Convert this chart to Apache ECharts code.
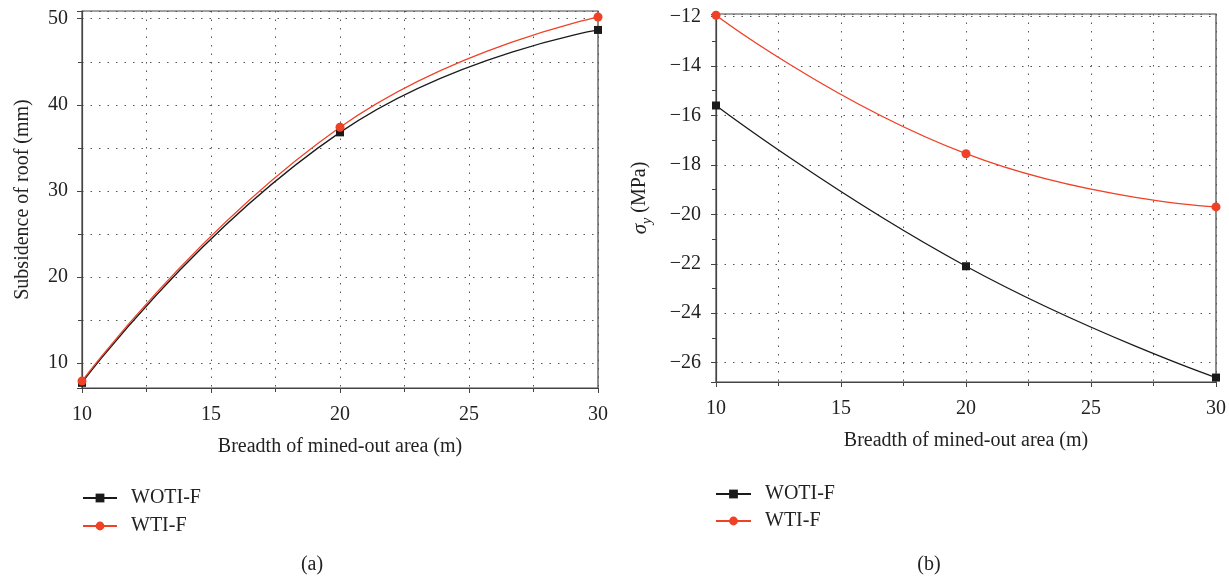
<!DOCTYPE html>
<html>
<head>
<meta charset="utf-8">
<script src="https://cdn.jsdelivr.net/npm/echarts@6/dist/echarts.min.js"></script>
<style>html,body{margin:0;padding:0;background:#fff}#c{width:1229px;height:578px}</style>
</head>
<body>
<div id="c"></div>
<script>
// Data
var breadth = [10, 20, 30];
var seriesNames = ['WOTI-F', 'WTI-F'];
var subsidenceWOTI = [7.7, 36.8, 48.7];
var subsidenceWTI = [7.9, 37.4, 50.2];
var stressWOTI = [-15.6, -22.1, -26.6];
var stressWTI = [-11.95, -17.55, -19.7];
var xTicks = [10, 15, 20, 25, 30];
var panelLabels = ['(a)', '(b)'];

var FONT = '"Liberation Serif", "DejaVu Serif", serif';
var TXT = '#222';
var BLACK = '#1a1a1a';
var RED = '#ee4126';
var FS = 20;

function pairs(xs, ys) { return xs.map(function (x, i) { return [x, ys[i]]; }); }

var chart = echarts.init(document.getElementById('c'), null, {renderer: 'canvas'});

function xAxisCfg(gi) {
  return {
    type: 'value', gridIndex: gi, min: 10, max: 30, interval: 5,
    name: 'Breadth of mined-out area (m)', nameLocation: 'middle', nameGap: 49,
    nameTextStyle: {fontFamily: FONT, fontSize: FS, color: TXT},
    axisLine: {show: true, lineStyle: {color: '#444', width: 1.2}},
    axisTick: {show: true, inside: false, length: 5, lineStyle: {color: '#444'}},
    minorTick: {show: true, splitNumber: 2, length: 4, lineStyle: {color: '#444'}},
    axisLabel: {fontFamily: FONT, fontSize: FS, color: TXT, margin: 17},
    splitLine: {show: true, lineStyle: {color: '#555', type: [1.5, 7], width: 1}},
    minorSplitLine: {show: true, lineStyle: {color: '#555', type: [1.5, 7], width: 1}}
  };
}

var option = {
  backgroundColor: '#fff',
  animation: false,
  title: [
    {text: panelLabels[0], left: 307, top: 550, textAlign: 'center',
     textStyle: {fontFamily: FONT, fontSize: FS, fontWeight: 'normal', color: TXT}},
    {text: panelLabels[1], left: 924, top: 550, textAlign: 'center',
     textStyle: {fontFamily: FONT, fontSize: FS, fontWeight: 'normal', color: TXT}}
  ],
  grid: [
    {left: 82, right: 631, top: 11, bottom: 190, show: true, borderColor: '#444', borderWidth: 1.2, backgroundColor: 'transparent'},
    {left: 716, right: 12, top: 14, bottom: 196, show: true, borderColor: '#444', borderWidth: 1.2, backgroundColor: 'transparent'}
  ],
  legend: [
    {orient: 'vertical', left: 82, top: 488, padding: 0, itemWidth: 34, itemHeight: 11, itemGap: 8,
     data: seriesNames, textStyle: {fontFamily: FONT, fontSize: FS, color: TXT, padding: [0, 0, 0, 9]}},
    {orient: 'vertical', left: 715, top: 484, padding: 0, itemWidth: 35, itemHeight: 11, itemGap: 7,
     data: seriesNames, textStyle: {fontFamily: FONT, fontSize: FS, color: TXT, padding: [0, 0, 0, 9]}}
  ],
  xAxis: [xAxisCfg(0), xAxisCfg(1)],
  yAxis: [
    {
      type: 'value', gridIndex: 0, min: 7.1, max: 50.9,
      name: 'Subsidence of roof (mm)', nameLocation: 'middle', nameGap: 49,
      nameTextStyle: {fontFamily: FONT, fontSize: FS, color: TXT},
      axisLine: {show: true, lineStyle: {color: '#444', width: 1.2}},
      axisTick: {show: true, length: 5, lineStyle: {color: '#444'}},
      minorTick: {show: true, splitNumber: 2, length: 4, lineStyle: {color: '#444'}},
      axisLabel: {fontFamily: FONT, fontSize: FS, color: TXT, margin: 14, showMinLabel: false, showMaxLabel: false},
      splitLine: {show: true, lineStyle: {color: '#555', type: [1.5, 7], width: 1}},
      minorSplitLine: {show: true, lineStyle: {color: '#555', type: [1.5, 7], width: 1}}
    },
    {
      type: 'value', gridIndex: 1, min: -26.78, max: -11.9, splitNumber: 7,
      name: '{s|σ}{b|y}{n| (MPa)}', nameLocation: 'middle', nameGap: 62,
      nameTextStyle: {fontFamily: FONT, fontSize: FS, color: TXT,
        rich: {
          s: {fontFamily: FONT, fontSize: 21, fontStyle: 'italic', color: TXT, lineHeight: 28, verticalAlign: 'middle'},
          b: {fontFamily: FONT, fontSize: 14, fontStyle: 'italic', color: TXT, lineHeight: 14, verticalAlign: 'bottom'},
          n: {fontFamily: FONT, fontSize: FS, color: TXT, lineHeight: 28, verticalAlign: 'middle'}
        }},
      axisLine: {show: true, lineStyle: {color: '#444', width: 1.2}},
      axisTick: {show: true, length: 5, lineStyle: {color: '#444'}},
      minorTick: {show: true, splitNumber: 2, length: 4, lineStyle: {color: '#444'}},
      axisLabel: {fontFamily: FONT, fontSize: FS, color: TXT, margin: 15, showMinLabel: false, showMaxLabel: false,
        formatter: function (v) { return String(v).replace('-', '\u2212'); }},
      splitLine: {show: true, lineStyle: {color: '#555', type: [1.5, 7], width: 1}},
      minorSplitLine: {show: false}
    }
  ],
  series: [
    {name: 'WOTI-F', type: 'line', xAxisIndex: 0, yAxisIndex: 0, data: pairs(breadth, subsidenceWOTI),
     smooth: 0.5, symbol: 'rect', symbolSize: 8, clip: false,
     lineStyle: {color: BLACK, width: 1.3}, itemStyle: {color: BLACK}},
    {name: 'WTI-F', type: 'line', xAxisIndex: 0, yAxisIndex: 0, data: pairs(breadth, subsidenceWTI),
     smooth: 0.5, symbol: 'circle', symbolSize: 9, clip: false,
     lineStyle: {color: RED, width: 1.3}, itemStyle: {color: RED}},
    {name: 'WOTI-F', type: 'line', xAxisIndex: 1, yAxisIndex: 1, data: pairs(breadth, stressWOTI),
     smooth: 0.5, symbol: 'rect', symbolSize: 8, clip: false,
     lineStyle: {color: BLACK, width: 1.3}, itemStyle: {color: BLACK}},
    {name: 'WTI-F', type: 'line', xAxisIndex: 1, yAxisIndex: 1, data: pairs(breadth, stressWTI),
     smooth: 0.5, symbol: 'circle', symbolSize: 9, clip: false,
     lineStyle: {color: RED, width: 1.3}, itemStyle: {color: RED}}
  ]
};
chart.setOption(option);
</script>
</body>
</html>
